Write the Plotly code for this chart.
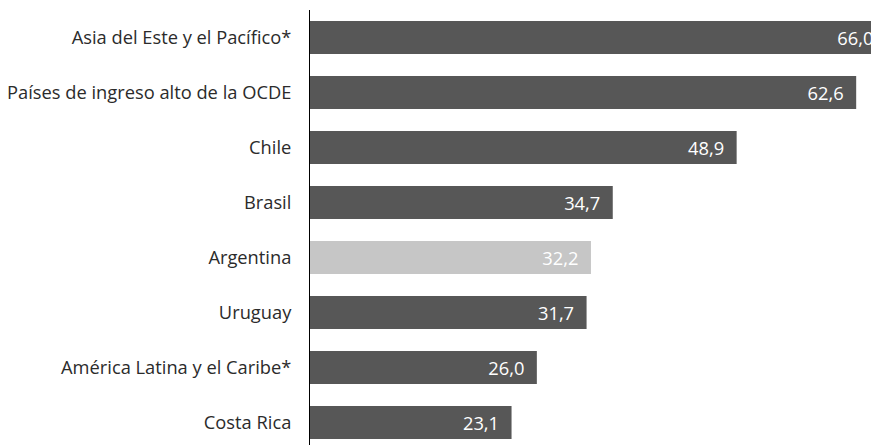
import plotly.graph_objects as go

categories = [
    "Asia del Este y el Pacífico*",
    "Países de ingreso alto de la OCDE",
    "Chile",
    "Brasil",
    "Argentina",
    "Uruguay",
    "América Latina y el Caribe*",
    "Costa Rica",
]
values = [66.0, 62.6, 48.9, 34.7, 32.2, 31.7, 26.0, 23.1]
highlight = "Argentina"

DARK = "#575757"
LIGHT = "#c6c6c6"
colors = [LIGHT if c == highlight else DARK for c in categories]
# value labels with decimal comma, padded from the bar end
labels = [f"{v:.1f}".replace(".", ",") + "\u00a0\u00a0" for v in values]

# page body has an 8px margin; compensate so the plot lands where the reference has it
OFF = 8
W, H = 879 - OFF, 445 - OFF
ML, MR, MT, MB = 310 - OFF, 0, 10 - OFF, 0
px_per_unit = 8.725
x_max = (W - ML - MR) / px_per_unit
step = 55.0
n_span = (H - MT - MB) / step

FONT = "Open Sans"
FS = 18.3

fig = go.Figure(
    go.Bar(
        x=values,
        y=categories,
        orientation="h",
        marker=dict(color=colors, line=dict(width=0)),
        text=labels,
        textposition="inside",
        insidetextanchor="end",
        textfont=dict(color="#ffffff", size=FS, family=FONT),
        cliponaxis=True,
        hoverinfo="skip",
    )
)

fig.update_layout(
    width=W,
    height=H,
    margin=dict(l=ML, r=MR, t=MT, b=MB, pad=0),
    paper_bgcolor="white",
    plot_bgcolor="white",
    bargap=0.4,
    showlegend=False,
    font=dict(family=FONT, size=FS, color="#2b2b2b"),
    xaxis=dict(range=[0, x_max], visible=False, fixedrange=True),
    yaxis=dict(
        categoryorder="array",
        categoryarray=categories,
        range=[-0.5 + n_span, -0.5],
        showline=True,
        linecolor="#000000",
        linewidth=1,
        showgrid=False,
        zeroline=False,
        ticks="",
        ticklabelstandoff=14,
        tickfont=dict(family=FONT, size=FS, color="#2b2b2b"),
    ),
    uniformtext=dict(mode=False),
)

fig.write_html("out.html")
